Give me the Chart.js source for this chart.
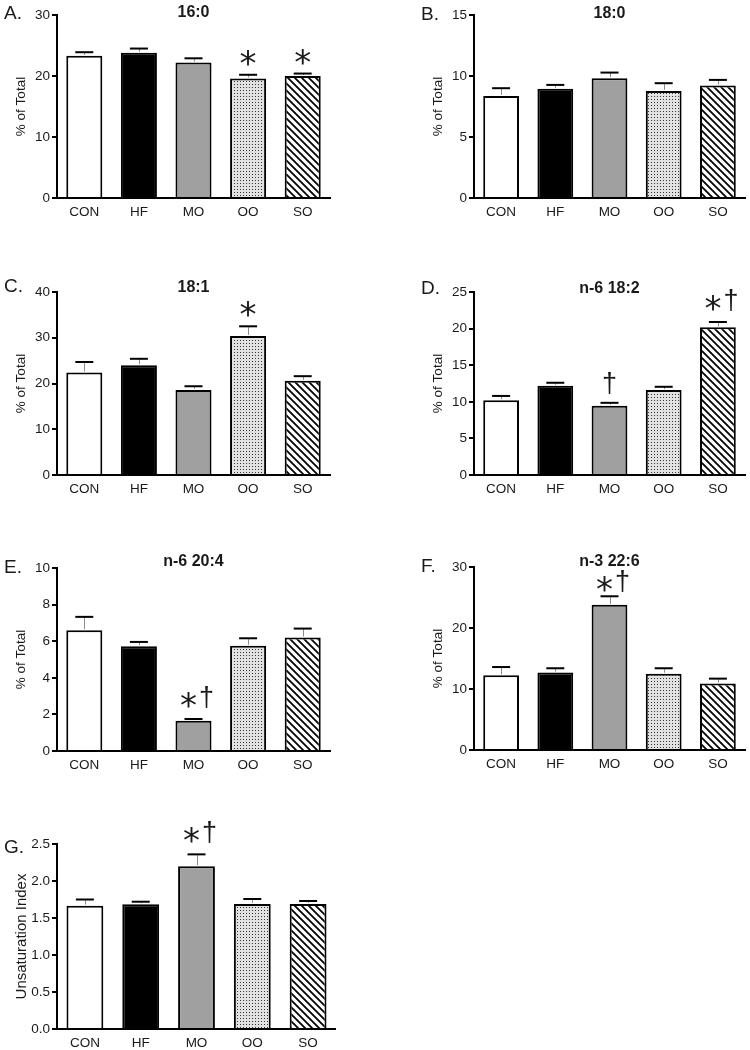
<!DOCTYPE html>
<html>
<head>
<meta charset="utf-8">
<script src="https://cdn.jsdelivr.net/npm/chart.js@4.4.0/dist/chart.umd.min.js"></script>
<style>
  html, body { margin: 0; padding: 0; background: #fff; }
  #page { position: relative; width: 750px; height: 1050px; overflow: hidden; }
  #page canvas { position: absolute; }
</style>
</head>
<body>
<div id="page"></div>
<script>
// diet groups (x axis of every panel)
const groups = ['CON', 'HF', 'MO', 'OO', 'SO'];

// A. 16:0
const fa160 = [23.3, 23.8, 22.2, 19.6, 20.0];
const fa160Err = [0.6, 0.7, 0.7, 0.6, 0.4];
const fa160Sig = ['', '', '', '*', '*'];

// B. 18:0
const fa180 = [8.37, 8.95, 9.82, 8.78, 9.22];
const fa180Err = [0.63, 0.32, 0.46, 0.63, 0.46];
const fa180Sig = ['', '', '', '', ''];

// C. 18:1
const fa181 = [22.4, 24.0, 18.6, 30.4, 20.6];
const fa181Err = [2.3, 1.4, 0.8, 2.1, 1.0];
const fa181Sig = ['', '', '', '*', ''];

// D. n-6 18:2
const fa182 = [10.2, 12.2, 9.45, 11.6, 20.2];
const fa182Err = [0.6, 0.4, 0.41, 0.45, 0.7];
const fa182Sig = ['', '', '†', '', '*†'];

// E. n-6 20:4
const fa204 = [6.6, 5.73, 1.65, 5.75, 6.2];
const fa204Err = [0.73, 0.23, 0.1, 0.41, 0.49];
const fa204Sig = ['', '', '*†', '', ''];

// F. n-3 22:6
const fa226 = [12.24, 12.7, 23.8, 12.5, 10.9];
const fa226Err = [1.36, 0.7, 1.4, 0.9, 0.8];
const fa226Sig = ['', '', '*†', '', ''];

// G. unsaturation index
const unsatIndex = [1.667, 1.685, 2.20, 1.69, 1.69];
const unsatErr = [0.083, 0.035, 0.16, 0.067, 0.04];
const unsatSig = ['', '', '*†', '', ''];

const FONT = '"Liberation Sans", Arial, sans-serif';
const INK = '#1a1a1a';

// fills for the five groups
function dotPattern() {
    const c = document.createElement('canvas');
    c.width = 3; c.height = 3;
    const g = c.getContext('2d');
    g.fillStyle = '#e2e2e2'; g.fillRect(0, 0, 3, 3);
    g.fillStyle = '#333333'; g.fillRect(0, 0, 1, 1);
    return g.createPattern(c, 'repeat');
}
function hatchPattern() {
    const s = 7;
    const c = document.createElement('canvas');
    c.width = s; c.height = s;
    const g = c.getContext('2d');
    g.fillStyle = '#fff'; g.fillRect(0, 0, s, s);
    g.strokeStyle = '#000'; g.lineWidth = 1.8;
    g.beginPath();
    g.moveTo(-2, -2); g.lineTo(s + 2, s + 2);
    g.moveTo(-2, s - 2); g.lineTo(2, s + 2);
    g.moveTo(s - 2, -2); g.lineTo(s + 2, 2);
    g.stroke();
    return g.createPattern(c, 'repeat');
}
const fills = ['#ffffff', '#000000', '#a0a0a0', dotPattern(), hatchPattern()];

// panel placement: canvas box + where the plot area sits inside it
const panels = [
    { letter: 'A.', title: '16:0', values: fa160, err: fa160Err, sig: fa160Sig, max: 30, step: 10,
      left: 0, width: 336, plotTop: 15, plotH: 183, padTop: 15, padRight: 6, letterDy: -1, titleDy: -2 },
    { letter: 'B.', title: '18:0', values: fa180, err: fa180Err, sig: fa180Sig, max: 15, step: 5,
      left: 417, width: 333, plotTop: 15, plotH: 183, padTop: 15, padRight: 5, letterDy: 0, titleDy: -1 },
    { letter: 'C.', title: '18:1', values: fa181, err: fa181Err, sig: fa181Sig, max: 40, step: 10,
      left: 0, width: 336, plotTop: 292, plotH: 183, padTop: 30, padRight: 6, letterDy: -5, titleDy: -4 },
    { letter: 'D.', title: 'n-6 18:2', values: fa182, err: fa182Err, sig: fa182Sig, max: 25, step: 5,
      left: 417, width: 333, plotTop: 292, plotH: 183, padTop: 30, padRight: 5, letterDy: -3, titleDy: -3 },
    { letter: 'E.', title: 'n-6 20:4', values: fa204, err: fa204Err, sig: fa204Sig, max: 10, step: 2,
      left: 0, width: 336, plotTop: 568, plotH: 183, padTop: 30, padRight: 6, letterDy: 0, titleDy: -6 },
    { letter: 'F.', title: 'n-3 22:6', values: fa226, err: fa226Err, sig: fa226Sig, max: 30, step: 10,
      left: 417, width: 333, plotTop: 567, plotH: 183, padTop: 30, padRight: 5, letterDy: 0, titleDy: -5, sigLift: -7 },
    { letter: 'G.', title: '', values: unsatIndex, err: unsatErr, sig: unsatSig, max: 2.5, step: 0.5,
      yTitle: 'Unsaturation Index', yTitleSize: 15, decimals: 1,
      left: 0, width: 336, plotTop: 844, plotH: 185, padTop: 30, padRight: 0, letterDy: 4, titleDy: 0 },
];

// draw text so its ink is centred on (x, cy)
function inkCentered(ctx, text, x, cy) {
    const m = ctx.measureText(text);
    ctx.fillText(text, x, cy + (m.actualBoundingBoxAscent - m.actualBoundingBoxDescent) / 2);
}
// draw text so its ink bottom sits at yb
function inkBottom(ctx, text, x, yb) {
    const m = ctx.measureText(text);
    ctx.fillText(text, x, yb - m.actualBoundingBoxDescent);
}

const STAR_FONT = '34px "DejaVu Sans"';
const DAGGER_FONT = '27px ' + FONT;

// error bars, significance marks, panel letter and title
const extras = {
    id: 'extras',
    afterDatasetsDraw(chart, args, opts) {
        const ctx = chart.ctx;
        const y = chart.scales.y;
        const meta = chart.getDatasetMeta(0);
        const lift = opts.sigLift || 0;
        ctx.save();
        opts.values.forEach((v, i) => {
            const cx = meta.data[i].x;
            const yTop = y.getPixelForValue(v);
            const yCap = y.getPixelForValue(v + opts.err[i]);
            ctx.strokeStyle = '#8c8c8c';
            ctx.lineWidth = 1;
            ctx.beginPath();
            ctx.moveTo(Math.round(cx) + 0.5, yTop - 1);
            ctx.lineTo(Math.round(cx) + 0.5, yCap);
            ctx.stroke();
            ctx.strokeStyle = '#000';
            ctx.lineWidth = 2;
            ctx.beginPath();
            ctx.moveTo(cx - 9, yCap);
            ctx.lineTo(cx + 9, yCap);
            ctx.stroke();

            const s = opts.sig[i];
            ctx.fillStyle = INK;
            ctx.textAlign = 'center';
            ctx.textBaseline = 'alphabetic';
            if (s === '*') {
                ctx.font = STAR_FONT;
                inkCentered(ctx, '*', cx, yCap - 17 - lift);
            } else if (s === '†') {
                ctx.font = DAGGER_FONT;
                inkBottom(ctx, '†', cx, yCap - 9 - lift);
            } else if (s === '*†') {
                ctx.font = STAR_FONT;
                inkCentered(ctx, '*', cx - 5, yCap - 19 - lift);
                ctx.font = DAGGER_FONT;
                inkBottom(ctx, '†', cx + 13, yCap - 11 - lift);
            }
        });
        ctx.restore();
    },
    afterDraw(chart, args, opts) {
        const ctx = chart.ctx;
        const area = chart.chartArea;
        ctx.save();
        ctx.fillStyle = INK;
        ctx.textBaseline = 'middle';
        ctx.textAlign = 'left';
        ctx.font = '19px ' + FONT;
        ctx.fillText(opts.letter, 4, area.top + opts.letterDy);
        if (opts.title) {
            ctx.textAlign = 'center';
            ctx.font = 'bold 16px ' + FONT;
            ctx.fillText(opts.title, (area.left + area.right) / 2, area.top + opts.titleDy);
        }
        ctx.restore();
    }
};

const page = document.getElementById('page');

panels.forEach(p => {
    const h = p.padTop + p.plotH + 30;
    const canvas = document.createElement('canvas');
    canvas.width = p.width;
    canvas.height = h;
    canvas.style.left = p.left + 'px';
    canvas.style.top = (p.plotTop - p.padTop) + 'px';
    canvas.style.width = p.width + 'px';
    canvas.style.height = h + 'px';
    page.appendChild(canvas);

    new Chart(canvas.getContext('2d'), {
        type: 'bar',
        data: {
            labels: groups,
            datasets: [{
                data: p.values,
                backgroundColor: fills,
                borderColor: '#000',
                borderWidth: 2,
                borderSkipped: 'start',
                barPercentage: 0.66,
                categoryPercentage: 1,
            }],
        },
        options: {
            responsive: false,
            animation: false,
            devicePixelRatio: 1,
            layout: { padding: { top: p.padTop, right: p.padRight, left: 0, bottom: 0 } },
            plugins: {
                legend: { display: false },
                tooltip: { enabled: false },
                extras: p,
            },
            scales: {
                x: {
                    grid: { display: false },
                    border: { display: true, color: '#000', width: 2 },
                    ticks: { color: INK, font: { family: FONT, size: 13.5 }, padding: -2 },
                    afterFit(scale) { scale.height = 30; },
                },
                y: {
                    min: 0,
                    max: p.max,
                    grid: { display: true, drawOnChartArea: false, drawTicks: true, tickLength: 5, color: '#000', lineWidth: 2 },
                    border: { display: true, color: '#000', width: 2 },
                    ticks: {
                        stepSize: p.step,
                        color: INK,
                        padding: 2,
                        font: { family: FONT, size: 13.5 },
                        callback: v => p.decimals ? v.toFixed(p.decimals) : v,
                    },
                    title: {
                        display: true,
                        text: p.yTitle || '% of Total',
                        color: INK,
                        font: { family: FONT, size: p.yTitleSize || 13.5 },
                        padding: { top: 13, bottom: 0 },
                    },
                    afterFit(scale) { scale.width = 57; },
                },
            },
        },
        plugins: [extras],
    });
});
</script>
</body>
</html>
